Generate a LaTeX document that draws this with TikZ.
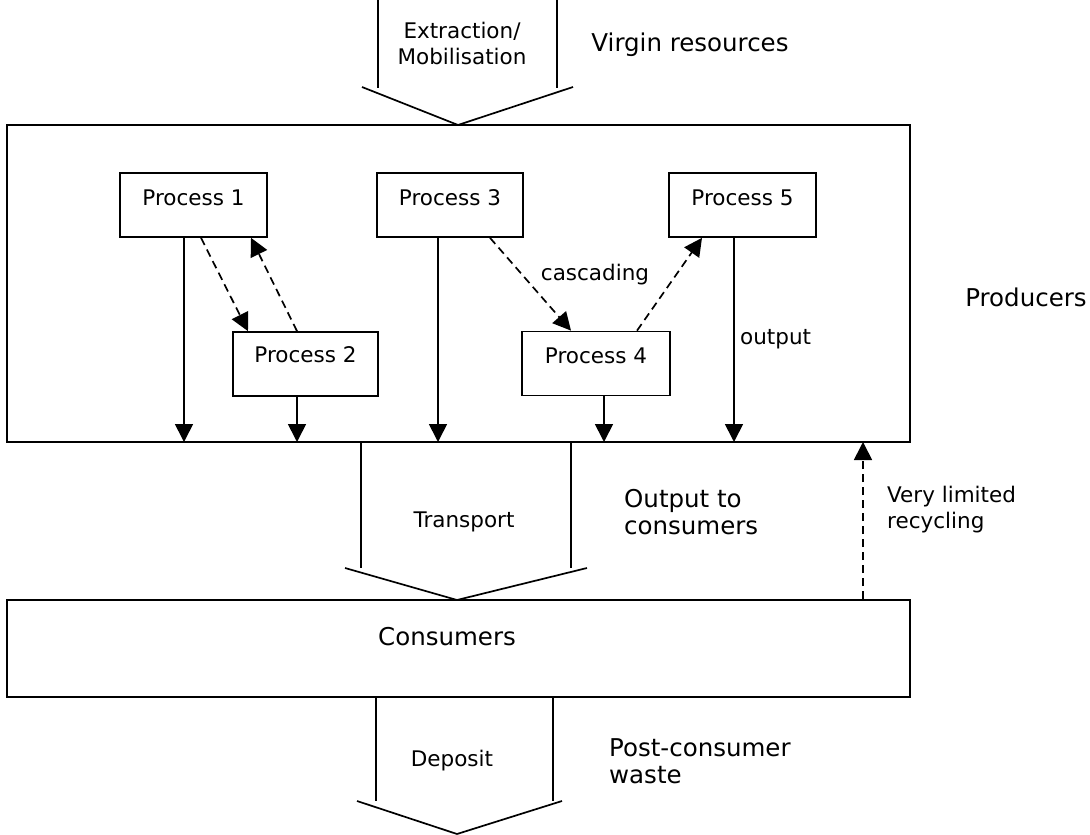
\documentclass[tikz,border=0pt]{standalone}
\usepackage{fontspec}
\setmainfont{DejaVu Sans}
\usetikzlibrary{arrows.meta}
\begin{document}
\begin{tikzpicture}[x=1pt,y=-1pt,
  line width=1.7pt,
  tip/.style={-{Triangle[width=18pt,length=18pt]}},
  dsh/.style={dash pattern=on 8pt off 5pt},
  procbox/.style={draw,rectangle,minimum width=#1,minimum height=64pt,inner sep=0pt},
  small/.style={font=\fontsize{21.5}{26}\selectfont},
  big/.style={font=\fontsize{24.5}{27}\selectfont},
  flowline/.style={line width=1.7pt,line join=miter}]
\useasboundingbox (0,0) rectangle (1090,835);

% main boxes
\node[draw,rectangle,minimum width=903pt,minimum height=317pt,inner sep=0pt] (prod) at (458.5,283.5) {};
\node[draw,rectangle,minimum width=903pt,minimum height=97pt,inner sep=0pt] (cons) at (458.5,648.5) {};
\node[big] (consl) at (447,637) {Consumers};

% process boxes
\node[procbox=147pt] (p1) at (193.5,205) {};
\node[procbox=145pt] (p2) at (305.5,364) {};
\node[procbox=146pt] (p3) at (450,205) {};
\node[procbox=148pt] (p4) at (596,363.5) {};
\node[procbox=147pt] (p5) at (742.5,205) {};
\node[small] (p1l) at ([yshift=7pt]p1.center) {Process 1};
\node[small] (p2l) at ([yshift=9pt]p2.center) {Process 2};
\node[small] (p3l) at ([yshift=7pt]p3.center) {Process 3};
\node[small] (p4l) at ([yshift=8pt]p4.center) {Process 4};
\node[small] (p5l) at ([yshift=7pt]p5.center) {Process 5};

% outputs of each process into the producers' boundary
\draw[tip] (184,237) -- (184,442);
\draw[tip] (p2.south -| 297,0) -- (297,442);
\draw[tip] (438,237) -- (438,442);
\draw[tip] (p4.south -| 604,0) -- (604,442);
\draw[tip] (734,237) -- (734,442);

% cascading links
\draw[tip,dsh] ([xshift=7.5pt]p1.south) -- ([xshift=-57.5pt]p2.north);
\draw[tip,dsh] ([xshift=-8.5pt]p2.north) -- ([xshift=57.5pt]p1.south);
\draw[tip,dsh] ([xshift=40pt]p3.south) -- ([xshift=-25pt]p4.north);
\draw[tip,dsh] ([xshift=41pt]p4.north) -- ([xshift=-40.5pt]p5.south);
\node[small] (casc) at (595,275) {cascading};
\node[small,anchor=west] (outl) at (736,339) {output};

% recycling back to producers
\draw[tip,dsh] (cons.north -| 863,0) -- (863,442);
\node[small,anchor=west,align=left] (recl) at (883,510) {Very limited\\recycling};

% extraction flow into producers
\draw[flowline] (378,0) -- (378,88);
\draw[flowline] (557,0) -- (557,88);
\draw[flowline,line join=miter] (362,87) -- (458,125) -- (573,87);
\node[small,align=center] (extr) at (462,43) {Extraction/\\Mobilisation};
\node[big] (virg) at (690,45) {Virgin resources};

% transport flow to consumers
\draw[flowline] (361,442) -- (361,568);
\draw[flowline] (571,442) -- (571,568);
\draw[flowline] (345,568) -- (457,600) -- (587,568);
\node[small] (trans) at (464,522) {Transport};
\node[big,anchor=west,align=left] (outc) at (620,512) {Output to\\consumers};

% deposit flow out of consumers
\draw[flowline] (376,697) -- (376,801);
\draw[flowline] (553,697) -- (553,801);
\draw[flowline] (357,801) -- (457,834) -- (562,801);
\node[small] (dep) at (452,761) {Deposit};
\node[big,anchor=west,align=left] (post) at (605,761) {Post-consumer\\waste};

\node[big] (prodl) at (1026,297) {Producers};
\end{tikzpicture}
\end{document}
